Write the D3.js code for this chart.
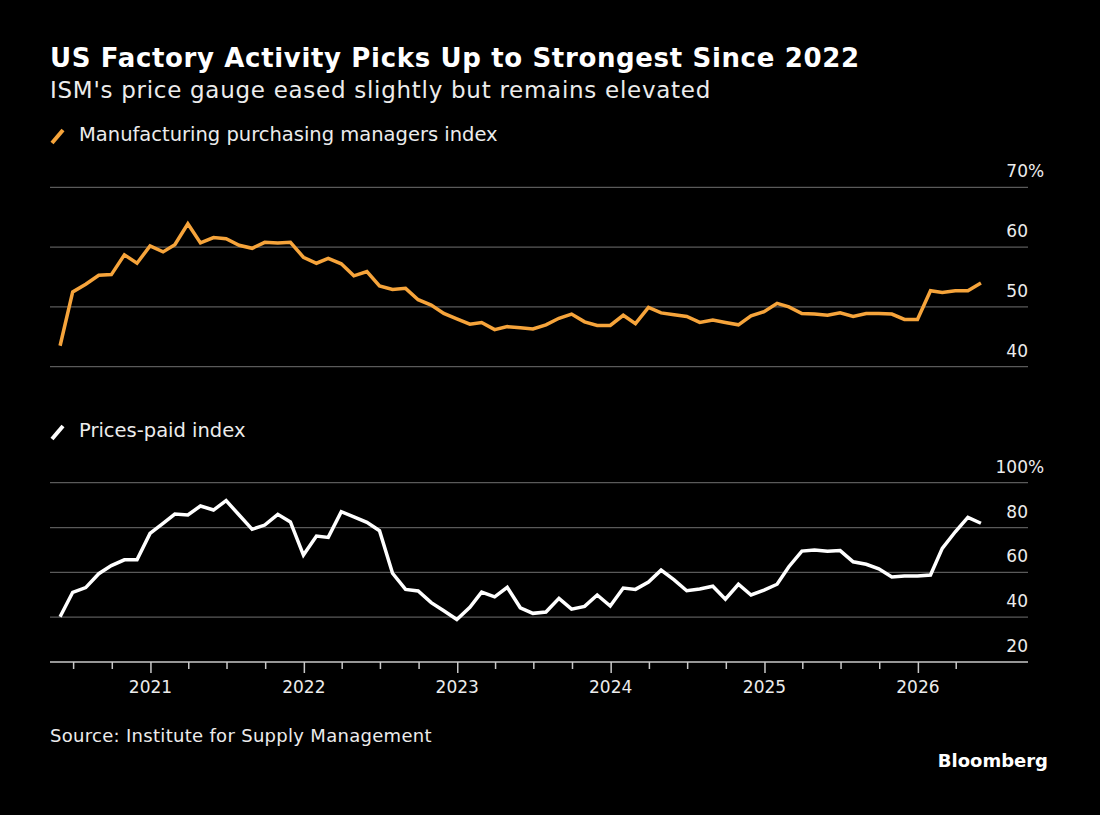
<!DOCTYPE html>
<html>
<head>
<meta charset="utf-8">
<script src="https://cdn.jsdelivr.net/npm/d3@7/dist/d3.min.js"></script>
<style>
  html, body { margin: 0; padding: 0; background: #000; }
  svg { display: block; }
  text { font-family: "DejaVu Sans", sans-serif; }
</style>
</head>
<body>
<svg id="chart" width="1100" height="815"></svg>
<script>
// ---- Data (monthly, May 2020 – May 2026) ----
const startYear = 2020, startMonth = 4; // May 2020 (0-based month)
const pmiValues = [
  43.5, 52.5, 53.8, 55.3, 55.4, 58.7, 57.3, 60.2, 59.2, 60.4, 63.9, 60.7,
  61.6, 61.4, 60.3, 59.8, 60.8, 60.7, 60.8, 58.3, 57.3, 58.1, 57.2, 55.2,
  55.9, 53.5, 52.9, 53.1, 51.2, 50.3, 48.9, 48.0, 47.1, 47.4, 46.2, 46.7,
  46.5, 46.3, 47.0, 48.1, 48.8, 47.5, 46.9, 46.9, 48.6, 47.2, 49.9, 49.0,
  48.7, 48.4, 47.4, 47.8, 47.4, 47.0, 48.5, 49.2, 50.6, 50.0, 48.9, 48.8,
  48.6, 49.0, 48.4, 48.9, 48.9, 48.8, 47.9, 47.9, 52.7, 52.4, 52.7, 52.7,
  54.0
];
const pricesValues = [
  40.2, 51.1, 53.2, 59.4, 63.0, 65.6, 65.6, 77.4, 81.9, 86.0, 85.6, 89.6,
  87.8, 92.0, 85.6, 79.2, 81.1, 85.9, 82.5, 67.7, 76.2, 75.6, 87.1, 84.8,
  82.3, 78.6, 59.6, 52.4, 51.7, 46.5, 42.9, 39.0, 44.4, 51.2, 49.1, 53.3,
  44.2, 41.7, 42.3, 48.4, 43.6, 44.8, 49.9, 45.0, 53.0, 52.4, 55.7, 61.0,
  56.6, 51.8, 52.6, 53.8, 48.0, 54.7, 49.9, 52.1, 54.7, 62.5, 69.5, 70.0,
  69.4, 69.7, 64.7, 63.6, 61.6, 57.9, 58.4, 58.4, 58.8, 70.7, 78.1, 84.5,
  81.9
];
const pmiTicks = [40, 50, 60, 70];
const pricesTicks = [20, 40, 60, 80, 100];
const yearLabels = [2021, 2022, 2023, 2024, 2025, 2026];

const titleText = "US Factory Activity Picks Up to Strongest Since 2022";
const subtitleText = "ISM's price gauge eased slightly but remains elevated";
const pmiLegend = "Manufacturing purchasing managers index";
const pricesLegend = "Prices-paid index";
const sourceText = "Source: Institute for Supply Management";

// month-end dates
const dates = pmiValues.map((_, i) => new Date(startYear, startMonth + i + 1, 0));
const pmi = dates.map((d, i) => ({ date: d, value: pmiValues[i] }));
const prices = dates.map((d, i) => ({ date: d, value: pricesValues[i] }));

// ---- Layout ----
const svg = d3.select("#chart");
svg.append("rect").attr("width", 1100).attr("height", 815).attr("fill", "#000");

const left = 50, right = 1028;
const x = d3.scaleTime()
  .domain([new Date(2020, 4, 7), new Date(2026, 8, 20)])
  .range([left, right]);

const yTop = d3.scaleLinear().domain([40, 70]).range([366.7, 187.3]);
const yBot = d3.scaleLinear().domain([20, 100]).range([662, 482.7]);

const ORANGE = "#f6a43b";
const GRID = "#5a5a5a";
const TXT = "#ececec";

// ---- Titles ----
svg.append("text").attr("x", 50).attr("y", 67)
  .attr("fill", "#fff").attr("font-size", 26).attr("font-weight", "bold")
  .attr("letter-spacing", 0.65)
  .text(titleText);
svg.append("text").attr("x", 50).attr("y", 98)
  .attr("fill", TXT).attr("font-size", 23).attr("letter-spacing", 0.72)
  .text(subtitleText);

// ---- Legends ----
function legend(y, color, label) {
  svg.append("line").attr("x1", 52).attr("y1", y + 2).attr("x2", 63).attr("y2", y - 11)
    .attr("stroke", color).attr("stroke-width", 4).attr("stroke-linecap", "butt");
  svg.append("text").attr("x", 79).attr("y", y)
    .attr("fill", TXT).attr("font-size", 19.5).text(label);
}
legend(141, ORANGE, pmiLegend);
legend(437, "#ffffff", pricesLegend);

// ---- Grid + y labels ----
function yGrid(scale, ticks, isBottom) {
  const g = svg.append("g");
  ticks.forEach((t, i) => {
    const yy = scale(t);
    const isAxis = isBottom && t === ticks[0];
    if (!isAxis) {
      g.append("line").attr("x1", left).attr("x2", right)
        .attr("y1", yy).attr("y2", yy)
        .attr("stroke", GRID).attr("stroke-width", 1.2);
    }
    g.append("text").attr("x", right).attr("y", yy - 10)
      .attr("text-anchor", "end").attr("fill", TXT).attr("font-size", 17)
      .text(t);
    if (i === ticks.length - 1) {
      g.append("text").attr("x", right).attr("y", yy - 10)
        .attr("fill", TXT).attr("font-size", 17).text("%");
    }
  });
}
yGrid(yTop, pmiTicks, false);
yGrid(yBot, pricesTicks, true);

// ---- X axis (bottom) ----
const axisY = yBot(20);
const quarterTicks = d3.timeMonth.every(3).range(new Date(2020, 6, 1), new Date(2026, 4, 1));
const xAxis = d3.axisBottom(x)
  .tickValues(quarterTicks)
  .tickSize(0)
  .tickFormat("");
const ax = svg.append("g").attr("transform", `translate(0,${axisY})`).call(xAxis);
ax.select(".domain").remove();
ax.append("line").attr("x1", left).attr("x2", right).attr("y1", 0).attr("y2", 0)
  .attr("stroke", "#c8c8c8").attr("stroke-width", 1.5);
ax.selectAll(".tick").each(function(d) {
  const major = d.getMonth() === 0;
  d3.select(this).append("line").attr("y1", 0).attr("y2", major ? 11 : 7)
    .attr("stroke", "#c8c8c8").attr("stroke-width", 1.5);
});
yearLabels.forEach(yr => {
  svg.append("text").attr("x", x(new Date(yr, 0, 1))).attr("y", 693)
    .attr("text-anchor", "middle").attr("fill", TXT).attr("font-size", 17)
    .text(yr);
});

// ---- Lines ----
const lineTop = d3.line().x(d => x(d.date)).y(d => yTop(d.value));
const lineBot = d3.line().x(d => x(d.date)).y(d => yBot(d.value));
svg.append("path").datum(pmi).attr("d", lineTop)
  .attr("fill", "none").attr("stroke", ORANGE).attr("stroke-width", 3.5)
  .attr("stroke-linejoin", "miter");
svg.append("path").datum(prices).attr("d", lineBot)
  .attr("fill", "none").attr("stroke", "#ffffff").attr("stroke-width", 3.5)
  .attr("stroke-linejoin", "miter");

// ---- Footer ----
svg.append("text").attr("x", 50).attr("y", 742)
  .attr("fill", TXT).attr("font-size", 18).attr("letter-spacing", 0.3).text(sourceText);
svg.append("text").attr("x", 1048).attr("y", 767)
  .attr("text-anchor", "end").attr("fill", "#fff").attr("font-size", 18)
  .attr("font-weight", "bold").text("Bloomberg");
</script>
</body>
</html>
